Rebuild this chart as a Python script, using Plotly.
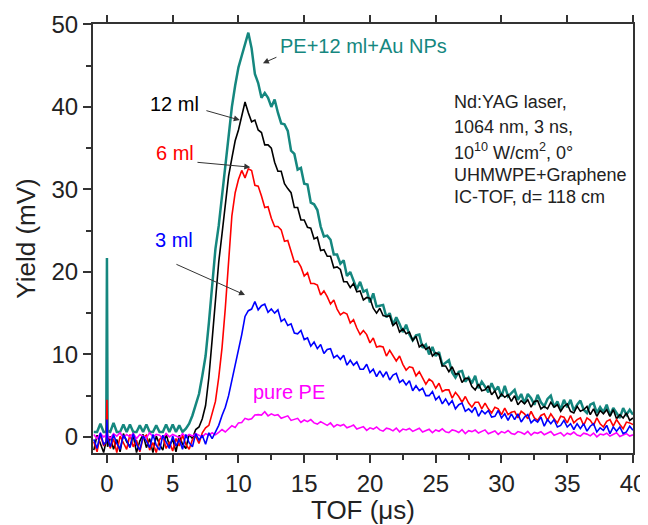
import plotly.graph_objects as go

# Sampling times (µs)
TOF = ([-1.0, -0.75, -0.5, -0.25, -0.05, 0.0, 0.05, 0.25, 0.5, 0.75]
       + [round(1.0 + 0.25 * k, 2) for k in range(156)] + [40.0])

au_nps = [0.6, 0.6, 1.6, 0.6,
          0.6, 21.7, 0.7,
          0.6, 1.7, 0.6,
          0.6, 1.5, 0.6, 1.5,
          0.6, 0.6, 1.4, 0.6,
          1.5, 0.6, 0.6, 1.4,
          0.6, 0.6, 1.5, 0.6,
          1.5, 0.6, 1.4, 0.6,
          1.0, 1.6, 2.6, 4.0,
          5.2, 7.4, 9.8, 13.8,
          18.0, 22.8, 25.6, 29.2,
          33.0, 36.4, 40.0, 42.6,
          44.8, 46.2, 47.6, 49.0,
          47.1, 44.0, 42.9, 41.1,
          41.7, 41.1, 40.0, 40.9,
          39.3, 38.0, 37.9, 37.1,
          34.7, 34.3, 32.4, 32.6,
          30.7, 30.6, 28.4, 28.2,
          27.5, 25.5, 24.3, 24.4,
          23.9, 22.1, 22.1, 21.0,
          21.4, 19.5, 20.0, 19.0,
          17.9, 18.8, 17.6, 17.8,
          16.3, 17.4, 15.8, 15.9,
          16.0, 14.5, 15.0, 13.6,
          14.5, 13.7, 12.7, 13.6,
          12.4, 11.7, 12.3, 12.4,
          10.8, 11.2, 10.0, 10.9,
          9.8, 10.3, 8.7, 9.0,
          9.3, 7.8, 7.2, 7.9,
          8.0, 6.7, 7.2, 6.5,
          7.4, 5.9, 6.7, 6.1,
          5.4, 6.5, 5.6, 6.1,
          4.9, 6.2, 4.9, 5.3,
          5.7, 4.5, 5.2, 4.1,
          5.2, 4.7, 3.9, 5.1,
          4.2, 3.7, 4.6, 5.0,
          3.6, 4.3, 3.3, 4.5,
          3.6, 4.5, 3.2, 3.9,
          4.4, 3.3, 2.9, 3.9,
          4.1, 2.9, 3.6, 3.0,
          3.9, 2.6, 3.5, 2.9,
          2.3, 3.5, 2.7, 3.3,
          2.7]

ml12 = [-1.6, 0.2, -0.8, -1.9,
        -0.4, 0.3, -1.2,
        0.1, -1.5, -0.3,
        -1.8, 0.4, -0.6, -1.2,
        0.2, -1.9, -0.5, 0.3,
        -1.3, -0.2, -1.9, 0.1,
        -0.9, -1.6, 0.4, -1.1,
        -0.3, -1.8, 0.2, -0.9,
        -1.4, 0.3, -0.2, 0.9,
        1.2, 2.2, 3.8, 7.2,
        11.8, 16.8, 21.2, 24.6,
        28.4, 31.6, 33.8, 35.9,
        37.2, 38.9, 40.6, 39.3,
        38.2, 38.4, 37.2, 36.9,
        35.4, 35.4, 35.0, 33.3,
        32.2, 32.2, 30.7, 30.1,
        29.6, 27.8, 27.8, 26.3,
        26.3, 25.4, 25.3, 24.0,
        24.2, 22.6, 22.7, 21.9,
        21.9, 20.5, 20.6, 20.3,
        18.8, 18.8, 18.1, 18.6,
        17.6, 17.7, 16.6, 16.9,
        16.8, 15.6, 15.0, 15.6,
        14.7, 14.6, 14.7, 13.5,
        13.9, 12.7, 13.1, 12.5,
        12.7, 11.7, 12.2, 10.9,
        11.2, 10.6, 10.9, 9.8,
        10.2, 10.0, 8.6, 8.6,
        7.9, 8.5, 7.6, 7.7,
        6.6, 7.1, 7.1, 6.1,
        5.7, 6.4, 5.6, 5.7,
        6.2, 5.1, 5.6, 4.6,
        5.2, 4.8, 5.1, 4.3,
        5.0, 3.9, 4.4, 4.0,
        4.5, 3.6, 4.3, 4.4,
        3.4, 3.7, 3.4, 4.2,
        3.6, 3.9, 3.1, 3.7,
        4.0, 3.1, 2.9, 3.7,
        3.1, 3.3, 3.7, 2.7,
        3.4, 2.5, 3.2, 2.8,
        3.3, 2.5, 3.3, 2.2,
        2.7, 2.3, 2.9, 2.0,
        2.3]

ml6 = [-0.6, -1.8, 0.3, -1.1,
       -0.5, 4.5, 0.2,
       -1.4, -0.2, -1.9,
       0.1, -0.8, -1.5, 0.3,
       -1.2, -0.4, -1.8, -0.1,
       0.2, -1.6, -0.7, -1.9,
       -0.3, 0.1, -1.4, -0.6,
       -1.7, -0.2, -1.1, 0.2,
       -0.9, -1.5, -0.3, 0.1,
       -0.8, 0.5, 1.1, 1.4,
       2.9, 4.3, 7.2, 10.8,
       15.6, 20.8, 26.8, 29.6,
       31.2, 32.3, 31.4, 32.5,
       32.3, 30.5, 30.4, 29.2,
       27.8, 27.9, 26.5, 25.5,
       25.5, 25.1, 23.7, 23.8,
       22.4, 21.2, 21.3, 20.6,
       19.5, 19.9, 18.6, 18.6,
       18.4, 17.2, 17.7, 17.0,
       16.1, 16.6, 15.5, 14.8,
       15.1, 14.9, 13.8, 14.2,
       13.2, 12.4, 12.9, 12.4,
       11.4, 12.0, 10.9, 11.0,
       10.9, 9.8, 10.5, 9.9,
       9.2, 9.8, 8.8, 8.1,
       8.5, 8.4, 7.4, 7.9,
       7.1, 6.4, 7.0, 6.7,
       5.9, 6.5, 5.5, 5.7,
       5.7, 4.7, 5.4, 4.9,
       4.2, 4.9, 4.1, 3.6,
       4.2, 4.2, 3.4, 4.1,
       3.4, 2.9, 3.6, 3.4,
       2.7, 3.5, 2.7, 3.0,
       3.1, 2.3, 3.1, 2.8,
       2.2, 3.1, 2.3, 2.0,
       2.6, 2.8, 2.0, 2.8,
       2.2, 1.7, 2.5, 2.4,
       1.7, 2.6, 1.7, 2.1,
       2.3, 1.4, 2.3, 2.0,
       1.4, 2.3, 1.6, 1.2,
       1.9, 2.1, 1.3, 2.1,
       1.5, 1.0, 1.8, 1.7,
       1.5]

ml3 = [-0.3, -1.4, 0.5, -0.9,
       -0.6, 2.1, -0.2,
       -1.2, 0.3, -0.8,
       -1.5, 0.2, -0.4, -1.3,
       0.4, -0.9, -1.6, 0.1,
       -0.5, -1.3, 0.3, -1.0,
       -1.6, 0.2, -0.6, -1.4,
       0.1, -1.1, -0.3, -1.5,
       0.3, -0.7, -1.2, 0.4,
       -0.4, 0.2, -0.9, 0.5,
       -0.2, 0.6, 1.4, 2.6,
       3.6, 5.0, 6.8, 8.9,
       10.6, 12.4, 14.6, 15.3,
       15.5, 16.4, 15.4, 15.9,
       16.1, 15.1, 15.5, 15.0,
       15.4, 14.0, 14.3, 13.5,
       13.7, 12.6, 12.5, 12.9,
       11.8, 12.0, 11.0, 11.5,
       10.7, 11.2, 10.1, 10.6,
       10.7, 9.6, 9.9, 9.4,
       9.9, 8.7, 9.3, 8.7,
       9.1, 8.2, 8.2, 8.8,
       7.8, 8.2, 7.3, 8.0,
       7.3, 7.9, 6.9, 7.5,
       7.7, 6.6, 6.9, 6.3,
       6.8, 5.6, 6.2, 5.6,
       5.9, 5.0, 5.0, 5.5,
       4.5, 4.9, 4.0, 4.6,
       3.9, 4.4, 3.4, 3.9,
       4.1, 3.1, 3.4, 3.0,
       3.6, 2.5, 3.2, 2.8,
       3.2, 2.4, 2.5, 3.2,
       2.3, 2.8, 2.0, 2.8,
       2.1, 2.8, 1.8, 2.4,
       2.7, 1.7, 2.1, 1.8,
       2.4, 1.3, 2.1, 1.6,
       2.1, 1.2, 1.4, 2.0,
       1.2, 1.6, 0.9, 1.6,
       1.0, 1.6, 0.7, 1.3,
       1.6, 0.6, 1.1, 0.8,
       1.4, 0.4, 1.2, 0.7,
       1.2, 0.4, 0.6, 1.3,
       0.8]

pure_pe = [0.3, -0.2, 0.4, 0.0,
           0.2, 0.5, 0.1,
           -0.2, 0.4, 0.1,
           0.5, -0.1, 0.3, 0.0,
           0.4, -0.2, 0.3, 0.1,
           -0.1, 0.5, 0.0, 0.3,
           0.2, -0.2, 0.4, 0.0,
           0.3, 0.1, -0.1, 0.4,
           0.0, 0.3, 0.1, 0.4,
           0.2, 0.0, 0.4, 0.2,
           0.5, 0.25, 0.55, 0.9,
           0.6, 1.0, 1.35, 1.15,
           1.7, 1.75, 2.25, 2.1,
           2.2, 2.65, 2.7, 2.65,
           3.05, 2.55, 2.8, 2.6,
           2.7, 2.25, 2.4, 2.55,
           2.0, 2.15, 2.25, 1.75,
           2.05, 1.85, 2.1, 1.7,
           1.55, 1.85, 1.65, 1.4,
           1.7, 1.2, 1.5, 1.35,
           1.5, 1.1, 1.25, 1.45,
           0.95, 1.1, 1.25, 0.8,
           1.1, 0.95, 1.2, 0.85,
           0.7, 1.05, 0.95, 0.73,
           1.07, 0.61, 0.95, 0.84,
           1.03, 0.67, 0.86, 1.05,
           0.59, 0.78, 0.92, 0.51,
           0.85, 0.69, 0.98, 0.62,
           0.51, 0.85, 0.74, 0.53,
           0.87, 0.41, 0.75, 0.64,
           0.83, 0.47, 0.66, 0.85,
           0.39, 0.58, 0.72, 0.31,
           0.65, 0.49, 0.78, 0.42,
           0.31, 0.65, 0.54, 0.33,
           0.67, 0.21, 0.55, 0.44,
           0.63, 0.27, 0.46, 0.65,
           0.19, 0.38, 0.52, 0.11,
           0.45, 0.29, 0.58, 0.22,
           0.11, 0.45, 0.34, 0.13,
           0.47, 0.01, 0.35, 0.25,
           0.45, 0.1, 0.3, 0.5,
           0.05, 0.25, 0.4, 0.1,
           0.25]

series = [
    ("PE+12 ml+Au NPs", au_nps, "#15877f", 2.5),
    ("12 ml", ml12, "#000000", 1.6),
    ("6 ml", ml6, "#ff0000", 1.6),
    ("pure PE", pure_pe, "#ff00ff", 1.6),
    ("3 ml", ml3, "#0000ff", 1.6),
]
for name, ys, _, _ in series:
    assert len(ys) == len(TOF), (name, len(ys), len(TOF))

FONT = "Liberation Sans, Arial, sans-serif"
AX = "#333333"
TXT = "#222222"

fig = go.Figure()
for name, ys, col, w in series:
    fig.add_trace(go.Scatter(x=TOF, y=ys, mode="lines", name=name,
                             line=dict(color=col, width=w), showlegend=False))
# invisible trace so the top tick axis is drawn
fig.add_trace(go.Scatter(x=[0, 40], y=[None, None], xaxis="x2", mode="lines",
                         showlegend=False, hoverinfo="skip"))

XR = [-1.06, 40.0]
YR = [-1.95, 50.05]
XT = [0, 5, 10, 15, 20, 25, 30, 35, 40]

# the page body adds an 8 px offset, so the figure is 8 px smaller
fig.update_layout(
    width=640, height=517,
    margin=dict(l=85, r=15, t=16, b=72),
    paper_bgcolor="white", plot_bgcolor="white",
    font=dict(family=FONT, color=TXT),
    xaxis=dict(range=XR, tickmode="array", tickvals=XT, automargin=False,
               ticks="outside", ticklen=8, tickwidth=1.5, tickcolor=AX,
               minor=dict(tickmode="array", tickvals=[2.5, 7.5, 12.5, 17.5, 22.5, 27.5, 32.5, 37.5],
                          ticks="outside", ticklen=5, tickwidth=1.5, tickcolor=AX),
               showline=True, linewidth=2, linecolor=AX, mirror=True,
               showgrid=False, zeroline=False,
               tickfont=dict(size=24, family=FONT, color=TXT),
               title=dict(text="TOF (μs)", font=dict(size=26, family=FONT, color=TXT),
                          standoff=4)),
    xaxis2=dict(range=XR, overlaying="x", side="top", tickmode="array", tickvals=XT,
                automargin=False,
                ticks="outside", ticklen=8, tickwidth=1.5, tickcolor=AX,
                showticklabels=False, showline=False, showgrid=False, zeroline=False),
    yaxis=dict(range=YR, tickmode="array", tickvals=[0, 10, 20, 30, 40, 50], automargin=False,
               ticks="outside", ticklen=8, tickwidth=1.5, tickcolor=AX,
               minor=dict(tickmode="array", tickvals=[5, 15, 25, 35, 45],
                          ticks="outside", ticklen=5, tickwidth=1.5, tickcolor=AX),
               showline=True, linewidth=2, linecolor=AX, mirror=True,
               showgrid=False, zeroline=False,
               tickfont=dict(size=24, family=FONT, color=TXT),
               title=dict(text="Yield (mV)", font=dict(size=26, family=FONT, color=TXT),
                          standoff=8)),
)

ARROW = "#333333"
labels = [
    ("PE+12 ml+Au NPs", 13.0, 47.4, "#15877f", "left"),
    ("12 ml", 5.17, 40.4, "#000000", "center"),
    ("6 ml", 5.17, 34.4, "#ff0000", "center"),
    ("3 ml", 5.1, 23.9, "#0000ff", "center"),
    ("pure PE", 13.84, 5.45, "#ff00ff", "center"),
]
for txt, x, y, col, anc in labels:
    fig.add_annotation(x=x, y=y, text=txt, showarrow=False, xanchor=anc, yanchor="middle",
                       font=dict(size=20, family=FONT, color=col))

arrows = [
    ((13.0, 46.1), (11.86, 45.3)),
    ((7.45, 39.6), (10.1, 38.4)),
    ((6.77, 33.3), (10.9, 32.7)),
    ((5.17, 21.0), (10.5, 17.2)),
]
for (tx, ty), (hx, hy) in arrows:
    fig.add_annotation(x=hx, y=hy, ax=tx, ay=ty, axref="x", ayref="y", text="",
                       showarrow=True, arrowhead=2, arrowsize=1.2, arrowwidth=1,
                       arrowcolor=ARROW)

info = ["Nd:YAG laser,", "1064 nm, 3 ns,", "10<sup>10</sup> W/cm<sup>2</sup>, 0°",
        "UHMWPE+Graphene", "IC-TOF, d= 118 cm"]
info_y = [101.7, 126.7, 151.7, 175.0, 197.0]
for t, py in zip(info, info_y):
    fig.add_annotation(x=(452 - 107) / 13.15, y=(437 - py) / 8.25, text=t, showarrow=False,
                       xanchor="left", yanchor="middle",
                       font=dict(size=18, family=FONT, color=TXT))

fig.write_html("out.html")
